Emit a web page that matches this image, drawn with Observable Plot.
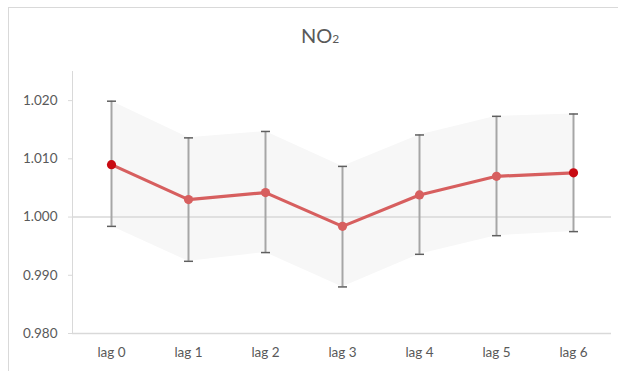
<!DOCTYPE html>
<html>
<head>
<meta charset="utf-8">
<script src="https://cdn.jsdelivr.net/npm/d3@7"></script>
<script src="https://cdn.jsdelivr.net/npm/@observablehq/plot@0.6"></script>
<style>
  html, body { margin: 0; padding: 0; background: #fff; overflow: hidden; }
  #chart { position: relative; width: 618px; height: 371px; overflow: hidden; font-family: Lato, "Open Sans", sans-serif; }
  #frame { position: absolute; left: 8px; top: 7px; width: 700px; height: 420px; border: 1px solid #d9d9d9; box-sizing: border-box; }
  #title { position: absolute; left: 0; top: 25px; width: 640px; text-align: center; font-size: 20px; line-height: 20px; color: #595959; }
  #title .sub { font-size: 12px; }
  #plot { position: absolute; left: 0; top: 0; }
</style>
</head>
<body>
<div id="chart">
  <div id="frame"></div>
  <div id="title">NO<span class="sub">2</span></div>
  <div id="plot"></div>
</div>
<script>
// Lag categories
const lags = ["lag 0", "lag 1", "lag 2", "lag 3", "lag 4", "lag 5", "lag 6"];
// Relative risk estimates and 95% confidence limits
const estimate = [1.0090, 1.0030, 1.0042, 0.9984, 1.0038, 1.0070, 1.0076];
const lower    = [0.9984, 0.9924, 0.9939, 0.9880, 0.9936, 0.9968, 0.9975];
const upper    = [1.0199, 1.0136, 1.0147, 1.0087, 1.0141, 1.0173, 1.0177];
// Y axis ticks
const yTicks = [0.98, 0.99, 1.00, 1.01, 1.02];

const rows = lags.map((lag, i) => ({lag, est: estimate[i], lo: lower[i], hi: upper[i]}));

const lineColor = "#d75f5f";
const endColor = "#c80a12";
const axisColor = "#d9d9d9";
const textColor = "#595959";

// Short horizontal cap for the error bars
const capSymbol = {
  draw(context) {
    context.moveTo(-4.5, 0);
    context.lineTo(4.5, 0);
  }
};

const chart = Plot.plot({
  width: 618,
  height: 371,
  marginLeft: 72,
  marginRight: 7,
  marginTop: 71,
  marginBottom: 38,
  style: {fontFamily: "Lato, 'Open Sans', sans-serif", fontSize: "13.5px", color: textColor, background: "transparent"},
  x: {type: "point", domain: lags, padding: 0.5},
  y: {domain: [0.98, 1.025]},
  marks: [
    Plot.areaY(rows, {x: "lag", y1: "lo", y2: "hi", fill: "#f7f7f7", curve: "linear"}),
    Plot.frame({anchor: "left", stroke: axisColor}),
    Plot.ruleY([1.0], {stroke: axisColor, strokeWidth: 1.5}),
    Plot.ruleY([0.98], {stroke: axisColor, strokeWidth: 1.5}),
    Plot.axisY({ticks: yTicks, tickFormat: d3.format(".3f"), tickSize: 4, tickPadding: 11, stroke: axisColor, color: textColor, label: null}),
    Plot.axisX({tickSize: 0, tickPadding: 14, color: textColor, label: null}),
    Plot.ruleX(rows, {x: "lag", y1: "lo", y2: "hi", stroke: "#a6a6a6", strokeWidth: 2}),
    Plot.dot(rows, {x: "lag", y: "lo", symbol: capSymbol, stroke: "#5f5f5f", strokeWidth: 1.5, fill: "none", r: 4}),
    Plot.dot(rows, {x: "lag", y: "hi", symbol: capSymbol, stroke: "#5f5f5f", strokeWidth: 1.5, fill: "none", r: 4}),
    Plot.line(rows, {x: "lag", y: "est", stroke: lineColor, strokeWidth: 3.2}),
    Plot.dot(rows, {
      x: "lag", y: "est", r: 4.6,
      fill: d => (d.lag === lags[0] || d.lag === lags[lags.length - 1]) ? endColor : lineColor
    })
  ]
});

document.getElementById("plot").appendChild(chart);
</script>
</body>
</html>
